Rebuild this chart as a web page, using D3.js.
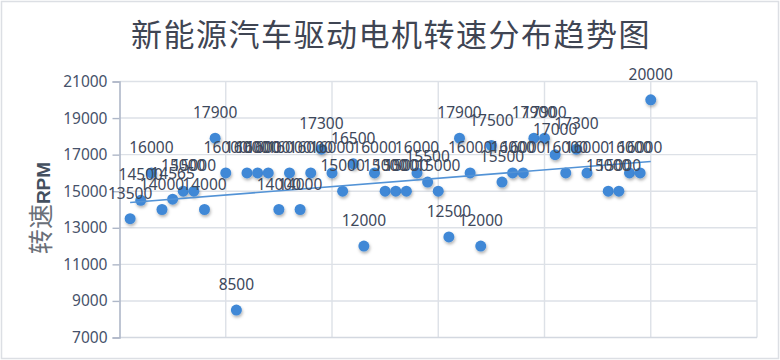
<!DOCTYPE html>
<html>
<head>
<meta charset="utf-8">
<script src="https://cdn.jsdelivr.net/npm/d3@7/dist/d3.min.js"></script>
<style>
  html, body { margin: 0; padding: 0; background: #fff; }
  svg { display: block; }
</style>
</head>
<body>
<svg class="chart"></svg>
<script>
// Motor speed scatter with linear trend line

// Sample index (point 45 has no value in the sheet)
var sampleIdx = [1, 2, 3, 4, 5, 6, 7, 8, 9, 10,
    11, 12, 13, 14, 15, 16, 17, 18, 19, 20,
    21, 22, 23, 24, 25, 26, 27, 28, 29, 30,
    31, 32, 33, 34, 35, 36, 37, 38, 39, 40,
    41, 42, 43, 44, 46, 47, 48, 49, 50];
// Speed in RPM
var speedRpm = [13500, 14500, 16000, 14000, 14565, 15000, 15000, 14000, 17900, 16000,
    8500, 16000, 16000, 16000, 14000, 16000, 14000, 16000, 17300, 16000,
    15000, 16500, 12000, 16000, 15000, 15000, 15000, 16000, 15500, 15000,
    12500, 17900, 16000, 12000, 17500, 15500, 16000, 16000, 17900, 17900,
    17000, 16000, 17300, 16000, 15000, 15000, 16000, 16000, 20000];
var yTicks = [7000, 9000, 11000, 13000, 15000, 17000, 19000, 21000];
var xTicks = [0, 10, 20, 30, 40, 50, 60];

var data = sampleIdx.map(function(x, i) { return { x: x, y: speedRpm[i] }; });

var W = 780, H = 360;
var svg = d3.select(".chart").attr("width", W).attr("height", H);

// drop shadow for the markers
var defs = svg.append("defs");
var f = defs.append("filter").attr("id", "shadow")
    .attr("x", "-50%").attr("y", "-50%").attr("width", "200%").attr("height", "200%");
f.append("feDropShadow")
    .attr("dx", 0.8).attr("dy", 2)
    .attr("stdDeviation", 1.4)
    .attr("flood-color", "#000")
    .attr("flood-opacity", 0.3);

// outer frame
svg.append("rect")
    .attr("x", 1.5).attr("y", 1.5)
    .attr("width", W - 3).attr("height", H - 3)
    .attr("fill", "#fff")
    .attr("stroke", "#dcdfe4")
    .attr("stroke-width", 1.5);

var x = d3.scaleLinear().domain([0, 60]).range([119.5, 757]);
var y = d3.scaleLinear().domain([7000, 21000]).range([337.5, 81.5]);

// gridlines
svg.append("g").selectAll("line.h")
    .data(yTicks.slice(1))
    .enter().append("line")
    .attr("x1", x(0)).attr("x2", x(60))
    .attr("y1", function(d) { return y(d); })
    .attr("y2", function(d) { return y(d); })
    .attr("stroke", "#dde1e7")
    .attr("stroke-width", 1.4);
svg.append("g").selectAll("line.v")
    .data(xTicks.slice(1))
    .enter().append("line")
    .attr("y1", y(7000)).attr("y2", y(21000))
    .attr("x1", function(d) { return x(d); })
    .attr("x2", function(d) { return x(d); })
    .attr("stroke", "#dde1e7")
    .attr("stroke-width", 1.4);

// bottom axis line (no labels)
svg.append("line")
    .attr("x1", x(0)).attr("x2", x(60))
    .attr("y1", y(7000)).attr("y2", y(7000))
    .attr("stroke", "#d3d8e0")
    .attr("stroke-width", 1.6);

// left axis
var yAxis = d3.axisLeft(y).tickValues(yTicks).tickSize(7).tickPadding(5)
    .tickFormat(d3.format("d"));
var ya = svg.append("g")
    .attr("transform", "translate(" + x(0) + ",0)")
    .call(yAxis);
ya.select(".domain").attr("stroke", "#aeb7c8").attr("stroke-width", 1.6);
ya.selectAll(".tick line").attr("stroke", "#aeb7c8").attr("stroke-width", 1.4);
ya.selectAll(".tick text")
    .style("font-family", "'Noto Sans', sans-serif")
    .style("font-size", "15.5px")
    .attr("fill", "#46526a");

// y axis title
var yt = svg.append("text")
    .attr("transform", "translate(50,208) rotate(-90)")
    .style("text-anchor", "middle");
yt.append("tspan")
    .style("font-family", "'Noto Sans CJK SC', sans-serif")
    .style("font-size", "25px")
    .attr("fill", "#6a6f78")
    .text("转速");
yt.append("tspan")
    .style("font-family", "'Liberation Sans', sans-serif")
    .style("font-size", "19px")
    .style("font-weight", "bold")
    .attr("fill", "#44505f")
    .text("RPM");

// title
svg.append("text")
    .attr("x", 391).attr("y", 46)
    .style("text-anchor", "middle")
    .style("font-family", "'Noto Sans CJK SC', sans-serif")
    .style("font-size", "31px")
    .style("letter-spacing", "1.5px")
    .attr("fill", "#3f4553")
    .text("新能源汽车驱动电机转速分布趋势图");

// linear trend (least squares)
var mx = d3.mean(data, function(d) { return d.x; });
var my = d3.mean(data, function(d) { return d.y; });
var sxy = d3.sum(data, function(d) { return (d.x - mx) * (d.y - my); });
var sxx = d3.sum(data, function(d) { return (d.x - mx) * (d.x - mx); });
var slope = sxy / sxx, icpt = my - slope * mx;
var xMin = d3.min(sampleIdx), xMax = d3.max(sampleIdx);

// points
svg.append("g").selectAll("circle")
    .data(data)
    .enter().append("circle")
    .attr("cx", function(d) { return x(d.x); })
    .attr("cy", function(d) { return y(d.y); })
    .attr("r", 5.5)
    .attr("fill", "#3f88d6")
    .attr("filter", "url(#shadow)");

svg.append("line")
    .attr("x1", x(xMin)).attr("y1", y(icpt + slope * xMin))
    .attr("x2", x(xMax)).attr("y2", y(icpt + slope * xMax))
    .attr("stroke", "#5393d6")
    .attr("stroke-width", 1.6);

// data labels
svg.append("g").selectAll("text")
    .data(data)
    .enter().append("text")
    .attr("x", function(d) { return x(d.x); })
    .attr("y", function(d) { return y(d.y) - 20; })
    .style("text-anchor", "middle")
    .style("font-family", "'Noto Sans', sans-serif")
    .style("font-size", "15.5px")
    .attr("fill", "#3d485b")
    .text(function(d) { return d.y; });
</script>
</body>
</html>
